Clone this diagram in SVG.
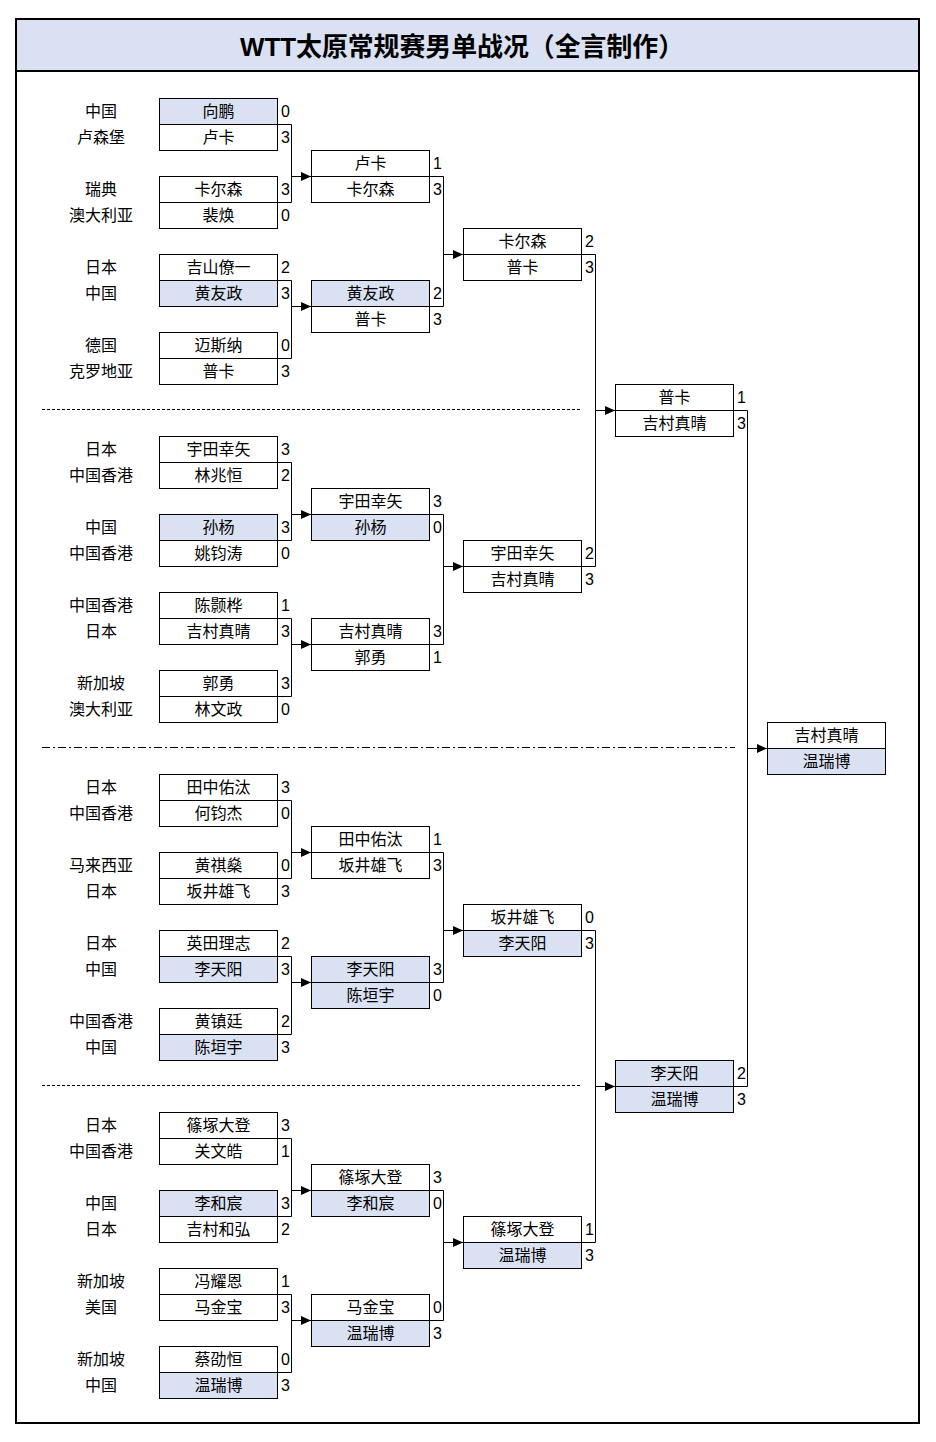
<svg xmlns="http://www.w3.org/2000/svg" width="936" height="1442" viewBox="0 0 936 1442">
<style>
.bx{fill:#fff;stroke:#000;stroke-width:1}
.hl{fill:#D9E1F2}
.nm{font-family:"Liberation Sans","Noto Sans CJK SC",sans-serif;font-size:16px;text-anchor:middle;fill:#000}
.ct{font-family:"Liberation Sans","Noto Sans CJK SC",sans-serif;font-size:16px;text-anchor:middle;fill:#000}
.sc{font-family:"Liberation Sans","Noto Sans CJK SC",sans-serif;font-size:16px;fill:#000}
.cn{fill:none;stroke:#000;stroke-width:1}
.ar{fill:none;stroke:#000;stroke-width:1;marker-end:url(#ah)}
.sep1{stroke:#000;stroke-width:1;stroke-dasharray:3 2}
.sep2{stroke:#000;stroke-width:1.2;stroke-dasharray:8 3 2 3}
</style>
<defs>
<marker id="ah" viewBox="0 0 10 9" refX="10" refY="4.5" markerWidth="10" markerHeight="9" orient="auto" markerUnits="userSpaceOnUse"><path d="M0,0 L10,4.5 L0,9 z" fill="#000"/></marker>
</defs>
<rect x="0" y="0" width="936" height="1442" fill="#fff"/>
<g id="frame">
<rect x="16" y="19" width="903" height="52" fill="#D9E1F2" stroke="none"/>
<rect x="16" y="19" width="903" height="1404" fill="none" stroke="#000" stroke-width="2"/>
<line x1="16" y1="71" x2="919" y2="71" stroke="#000" stroke-width="2"/>
<text x="462" y="56" font-family="'Liberation Sans','Noto Sans CJK SC',sans-serif" font-size="26" font-weight="bold" text-anchor="middle" textLength="444" lengthAdjust="spacingAndGlyphs">WTT太原常规赛男单战况（全言制作）</text>
</g>
<g id="separators">
<line class="sep1" x1="42" y1="409.5" x2="581" y2="409.5"/>
<line class="sep2" x1="42" y1="747.5" x2="735" y2="747.5"/>
<line class="sep1" x1="42" y1="1085.5" x2="581" y2="1085.5"/>
</g>
<g id="connectors">
<path class="cn" d="M277.5,124.5H291.5V202.5H277.5"/><path class="ar" d="M291.5,176.5H311"/>
<path class="cn" d="M277.5,280.5H291.5V358.5H277.5"/><path class="ar" d="M291.5,306.5H311"/>
<path class="cn" d="M277.5,462.5H291.5V540.5H277.5"/><path class="ar" d="M291.5,514.5H311"/>
<path class="cn" d="M277.5,618.5H291.5V696.5H277.5"/><path class="ar" d="M291.5,644.5H311"/>
<path class="cn" d="M277.5,800.5H291.5V878.5H277.5"/><path class="ar" d="M291.5,852.5H311"/>
<path class="cn" d="M277.5,956.5H291.5V1034.5H277.5"/><path class="ar" d="M291.5,982.5H311"/>
<path class="cn" d="M277.5,1138.5H291.5V1216.5H277.5"/><path class="ar" d="M291.5,1190.5H311"/>
<path class="cn" d="M277.5,1294.5H291.5V1372.5H277.5"/><path class="ar" d="M291.5,1320.5H311"/>
<path class="cn" d="M429.5,176.5H443.5V306.5H429.5"/><path class="ar" d="M443.5,254.5H463"/>
<path class="cn" d="M429.5,514.5H443.5V644.5H429.5"/><path class="ar" d="M443.5,566.5H463"/>
<path class="cn" d="M429.5,852.5H443.5V982.5H429.5"/><path class="ar" d="M443.5,930.5H463"/>
<path class="cn" d="M429.5,1190.5H443.5V1320.5H429.5"/><path class="ar" d="M443.5,1242.5H463"/>
<path class="cn" d="M581.5,254.5H595.5V566.5H581.5"/><path class="ar" d="M595.5,410.5H615"/>
<path class="cn" d="M581.5,930.5H595.5V1242.5H581.5"/><path class="ar" d="M595.5,1086.5H615"/>
<path class="cn" d="M733.5,410.5H747.5V1086.5H733.5"/><path class="ar" d="M747.5,748.5H767"/>
</g>
<!-- Round 1 -->
<g id="r1m1"><rect class="bx hl" x="159.5" y="98.5" width="118" height="26"/><rect class="bx" x="159.5" y="124.5" width="118" height="26"/>
<text class="ct" x="101" y="117">中国</text><text class="ct" x="101" y="143">卢森堡</text>
<text class="nm" x="218.5" y="117">向鹏</text><text class="nm" x="218.5" y="143">卢卡</text>
<text class="sc" x="281" y="117">0</text><text class="sc" x="281" y="143">3</text></g>
<g id="r1m2"><rect class="bx" x="159.5" y="176.5" width="118" height="26"/><rect class="bx" x="159.5" y="202.5" width="118" height="26"/>
<text class="ct" x="101" y="195">瑞典</text><text class="ct" x="101" y="221">澳大利亚</text>
<text class="nm" x="218.5" y="195">卡尔森</text><text class="nm" x="218.5" y="221">裴焕</text>
<text class="sc" x="281" y="195">3</text><text class="sc" x="281" y="221">0</text></g>
<g id="r1m3"><rect class="bx" x="159.5" y="254.5" width="118" height="26"/><rect class="bx hl" x="159.5" y="280.5" width="118" height="26"/>
<text class="ct" x="101" y="273">日本</text><text class="ct" x="101" y="299">中国</text>
<text class="nm" x="218.5" y="273">吉山僚一</text><text class="nm" x="218.5" y="299">黄友政</text>
<text class="sc" x="281" y="273">2</text><text class="sc" x="281" y="299">3</text></g>
<g id="r1m4"><rect class="bx" x="159.5" y="332.5" width="118" height="26"/><rect class="bx" x="159.5" y="358.5" width="118" height="26"/>
<text class="ct" x="101" y="351">德国</text><text class="ct" x="101" y="377">克罗地亚</text>
<text class="nm" x="218.5" y="351">迈斯纳</text><text class="nm" x="218.5" y="377">普卡</text>
<text class="sc" x="281" y="351">0</text><text class="sc" x="281" y="377">3</text></g>
<g id="r1m5"><rect class="bx" x="159.5" y="436.5" width="118" height="26"/><rect class="bx" x="159.5" y="462.5" width="118" height="26"/>
<text class="ct" x="101" y="455">日本</text><text class="ct" x="101" y="481">中国香港</text>
<text class="nm" x="218.5" y="455">宇田幸矢</text><text class="nm" x="218.5" y="481">林兆恒</text>
<text class="sc" x="281" y="455">3</text><text class="sc" x="281" y="481">2</text></g>
<g id="r1m6"><rect class="bx hl" x="159.5" y="514.5" width="118" height="26"/><rect class="bx" x="159.5" y="540.5" width="118" height="26"/>
<text class="ct" x="101" y="533">中国</text><text class="ct" x="101" y="559">中国香港</text>
<text class="nm" x="218.5" y="533">孙杨</text><text class="nm" x="218.5" y="559">姚钧涛</text>
<text class="sc" x="281" y="533">3</text><text class="sc" x="281" y="559">0</text></g>
<g id="r1m7"><rect class="bx" x="159.5" y="592.5" width="118" height="26"/><rect class="bx" x="159.5" y="618.5" width="118" height="26"/>
<text class="ct" x="101" y="611">中国香港</text><text class="ct" x="101" y="637">日本</text>
<text class="nm" x="218.5" y="611">陈颢桦</text><text class="nm" x="218.5" y="637">吉村真晴</text>
<text class="sc" x="281" y="611">1</text><text class="sc" x="281" y="637">3</text></g>
<g id="r1m8"><rect class="bx" x="159.5" y="670.5" width="118" height="26"/><rect class="bx" x="159.5" y="696.5" width="118" height="26"/>
<text class="ct" x="101" y="689">新加坡</text><text class="ct" x="101" y="715">澳大利亚</text>
<text class="nm" x="218.5" y="689">郭勇</text><text class="nm" x="218.5" y="715">林文政</text>
<text class="sc" x="281" y="689">3</text><text class="sc" x="281" y="715">0</text></g>
<g id="r1m9"><rect class="bx" x="159.5" y="774.5" width="118" height="26"/><rect class="bx" x="159.5" y="800.5" width="118" height="26"/>
<text class="ct" x="101" y="793">日本</text><text class="ct" x="101" y="819">中国香港</text>
<text class="nm" x="218.5" y="793">田中佑汰</text><text class="nm" x="218.5" y="819">何钧杰</text>
<text class="sc" x="281" y="793">3</text><text class="sc" x="281" y="819">0</text></g>
<g id="r1m10"><rect class="bx" x="159.5" y="852.5" width="118" height="26"/><rect class="bx" x="159.5" y="878.5" width="118" height="26"/>
<text class="ct" x="101" y="871">马来西亚</text><text class="ct" x="101" y="897">日本</text>
<text class="nm" x="218.5" y="871">黄祺燊</text><text class="nm" x="218.5" y="897">坂井雄飞</text>
<text class="sc" x="281" y="871">0</text><text class="sc" x="281" y="897">3</text></g>
<g id="r1m11"><rect class="bx" x="159.5" y="930.5" width="118" height="26"/><rect class="bx hl" x="159.5" y="956.5" width="118" height="26"/>
<text class="ct" x="101" y="949">日本</text><text class="ct" x="101" y="975">中国</text>
<text class="nm" x="218.5" y="949">英田理志</text><text class="nm" x="218.5" y="975">李天阳</text>
<text class="sc" x="281" y="949">2</text><text class="sc" x="281" y="975">3</text></g>
<g id="r1m12"><rect class="bx" x="159.5" y="1008.5" width="118" height="26"/><rect class="bx hl" x="159.5" y="1034.5" width="118" height="26"/>
<text class="ct" x="101" y="1027">中国香港</text><text class="ct" x="101" y="1053">中国</text>
<text class="nm" x="218.5" y="1027">黄镇廷</text><text class="nm" x="218.5" y="1053">陈垣宇</text>
<text class="sc" x="281" y="1027">2</text><text class="sc" x="281" y="1053">3</text></g>
<g id="r1m13"><rect class="bx" x="159.5" y="1112.5" width="118" height="26"/><rect class="bx" x="159.5" y="1138.5" width="118" height="26"/>
<text class="ct" x="101" y="1131">日本</text><text class="ct" x="101" y="1157">中国香港</text>
<text class="nm" x="218.5" y="1131">篠塚大登</text><text class="nm" x="218.5" y="1157">关文皓</text>
<text class="sc" x="281" y="1131">3</text><text class="sc" x="281" y="1157">1</text></g>
<g id="r1m14"><rect class="bx hl" x="159.5" y="1190.5" width="118" height="26"/><rect class="bx" x="159.5" y="1216.5" width="118" height="26"/>
<text class="ct" x="101" y="1209">中国</text><text class="ct" x="101" y="1235">日本</text>
<text class="nm" x="218.5" y="1209">李和宸</text><text class="nm" x="218.5" y="1235">吉村和弘</text>
<text class="sc" x="281" y="1209">3</text><text class="sc" x="281" y="1235">2</text></g>
<g id="r1m15"><rect class="bx" x="159.5" y="1268.5" width="118" height="26"/><rect class="bx" x="159.5" y="1294.5" width="118" height="26"/>
<text class="ct" x="101" y="1287">新加坡</text><text class="ct" x="101" y="1313">美国</text>
<text class="nm" x="218.5" y="1287">冯耀恩</text><text class="nm" x="218.5" y="1313">马金宝</text>
<text class="sc" x="281" y="1287">1</text><text class="sc" x="281" y="1313">3</text></g>
<g id="r1m16"><rect class="bx" x="159.5" y="1346.5" width="118" height="26"/><rect class="bx hl" x="159.5" y="1372.5" width="118" height="26"/>
<text class="ct" x="101" y="1365">新加坡</text><text class="ct" x="101" y="1391">中国</text>
<text class="nm" x="218.5" y="1365">蔡劭恒</text><text class="nm" x="218.5" y="1391">温瑞博</text>
<text class="sc" x="281" y="1365">0</text><text class="sc" x="281" y="1391">3</text></g>
<!-- Round 2 -->
<g id="r2m1"><rect class="bx" x="311.5" y="150.5" width="118" height="26"/><rect class="bx" x="311.5" y="176.5" width="118" height="26"/>
<text class="nm" x="370.5" y="169">卢卡</text><text class="nm" x="370.5" y="195">卡尔森</text>
<text class="sc" x="433" y="169">1</text><text class="sc" x="433" y="195">3</text></g>
<g id="r2m2"><rect class="bx hl" x="311.5" y="280.5" width="118" height="26"/><rect class="bx" x="311.5" y="306.5" width="118" height="26"/>
<text class="nm" x="370.5" y="299">黄友政</text><text class="nm" x="370.5" y="325">普卡</text>
<text class="sc" x="433" y="299">2</text><text class="sc" x="433" y="325">3</text></g>
<g id="r2m3"><rect class="bx" x="311.5" y="488.5" width="118" height="26"/><rect class="bx hl" x="311.5" y="514.5" width="118" height="26"/>
<text class="nm" x="370.5" y="507">宇田幸矢</text><text class="nm" x="370.5" y="533">孙杨</text>
<text class="sc" x="433" y="507">3</text><text class="sc" x="433" y="533">0</text></g>
<g id="r2m4"><rect class="bx" x="311.5" y="618.5" width="118" height="26"/><rect class="bx" x="311.5" y="644.5" width="118" height="26"/>
<text class="nm" x="370.5" y="637">吉村真晴</text><text class="nm" x="370.5" y="663">郭勇</text>
<text class="sc" x="433" y="637">3</text><text class="sc" x="433" y="663">1</text></g>
<g id="r2m5"><rect class="bx" x="311.5" y="826.5" width="118" height="26"/><rect class="bx" x="311.5" y="852.5" width="118" height="26"/>
<text class="nm" x="370.5" y="845">田中佑汰</text><text class="nm" x="370.5" y="871">坂井雄飞</text>
<text class="sc" x="433" y="845">1</text><text class="sc" x="433" y="871">3</text></g>
<g id="r2m6"><rect class="bx hl" x="311.5" y="956.5" width="118" height="26"/><rect class="bx hl" x="311.5" y="982.5" width="118" height="26"/>
<text class="nm" x="370.5" y="975">李天阳</text><text class="nm" x="370.5" y="1001">陈垣宇</text>
<text class="sc" x="433" y="975">3</text><text class="sc" x="433" y="1001">0</text></g>
<g id="r2m7"><rect class="bx" x="311.5" y="1164.5" width="118" height="26"/><rect class="bx hl" x="311.5" y="1190.5" width="118" height="26"/>
<text class="nm" x="370.5" y="1183">篠塚大登</text><text class="nm" x="370.5" y="1209">李和宸</text>
<text class="sc" x="433" y="1183">3</text><text class="sc" x="433" y="1209">0</text></g>
<g id="r2m8"><rect class="bx" x="311.5" y="1294.5" width="118" height="26"/><rect class="bx hl" x="311.5" y="1320.5" width="118" height="26"/>
<text class="nm" x="370.5" y="1313">马金宝</text><text class="nm" x="370.5" y="1339">温瑞博</text>
<text class="sc" x="433" y="1313">0</text><text class="sc" x="433" y="1339">3</text></g>
<!-- Round 3 -->
<g id="r3m1"><rect class="bx" x="463.5" y="228.5" width="118" height="26"/><rect class="bx" x="463.5" y="254.5" width="118" height="26"/>
<text class="nm" x="522.5" y="247">卡尔森</text><text class="nm" x="522.5" y="273">普卡</text>
<text class="sc" x="585" y="247">2</text><text class="sc" x="585" y="273">3</text></g>
<g id="r3m2"><rect class="bx" x="463.5" y="540.5" width="118" height="26"/><rect class="bx" x="463.5" y="566.5" width="118" height="26"/>
<text class="nm" x="522.5" y="559">宇田幸矢</text><text class="nm" x="522.5" y="585">吉村真晴</text>
<text class="sc" x="585" y="559">2</text><text class="sc" x="585" y="585">3</text></g>
<g id="r3m3"><rect class="bx" x="463.5" y="904.5" width="118" height="26"/><rect class="bx hl" x="463.5" y="930.5" width="118" height="26"/>
<text class="nm" x="522.5" y="923">坂井雄飞</text><text class="nm" x="522.5" y="949">李天阳</text>
<text class="sc" x="585" y="923">0</text><text class="sc" x="585" y="949">3</text></g>
<g id="r3m4"><rect class="bx" x="463.5" y="1216.5" width="118" height="26"/><rect class="bx hl" x="463.5" y="1242.5" width="118" height="26"/>
<text class="nm" x="522.5" y="1235">篠塚大登</text><text class="nm" x="522.5" y="1261">温瑞博</text>
<text class="sc" x="585" y="1235">1</text><text class="sc" x="585" y="1261">3</text></g>
<!-- Round 4 -->
<g id="r4m1"><rect class="bx" x="615.5" y="384.5" width="118" height="26"/><rect class="bx" x="615.5" y="410.5" width="118" height="26"/>
<text class="nm" x="674.5" y="403">普卡</text><text class="nm" x="674.5" y="429">吉村真晴</text>
<text class="sc" x="737" y="403">1</text><text class="sc" x="737" y="429">3</text></g>
<g id="r4m2"><rect class="bx hl" x="615.5" y="1060.5" width="118" height="26"/><rect class="bx hl" x="615.5" y="1086.5" width="118" height="26"/>
<text class="nm" x="674.5" y="1079">李天阳</text><text class="nm" x="674.5" y="1105">温瑞博</text>
<text class="sc" x="737" y="1079">2</text><text class="sc" x="737" y="1105">3</text></g>
<!-- Final -->
<g id="final"><rect class="bx" x="767.5" y="722.5" width="118" height="26"/><rect class="bx hl" x="767.5" y="748.5" width="118" height="26"/>
<text class="nm" x="826.5" y="741">吉村真晴</text><text class="nm" x="826.5" y="767">温瑞博</text></g>
</svg>
